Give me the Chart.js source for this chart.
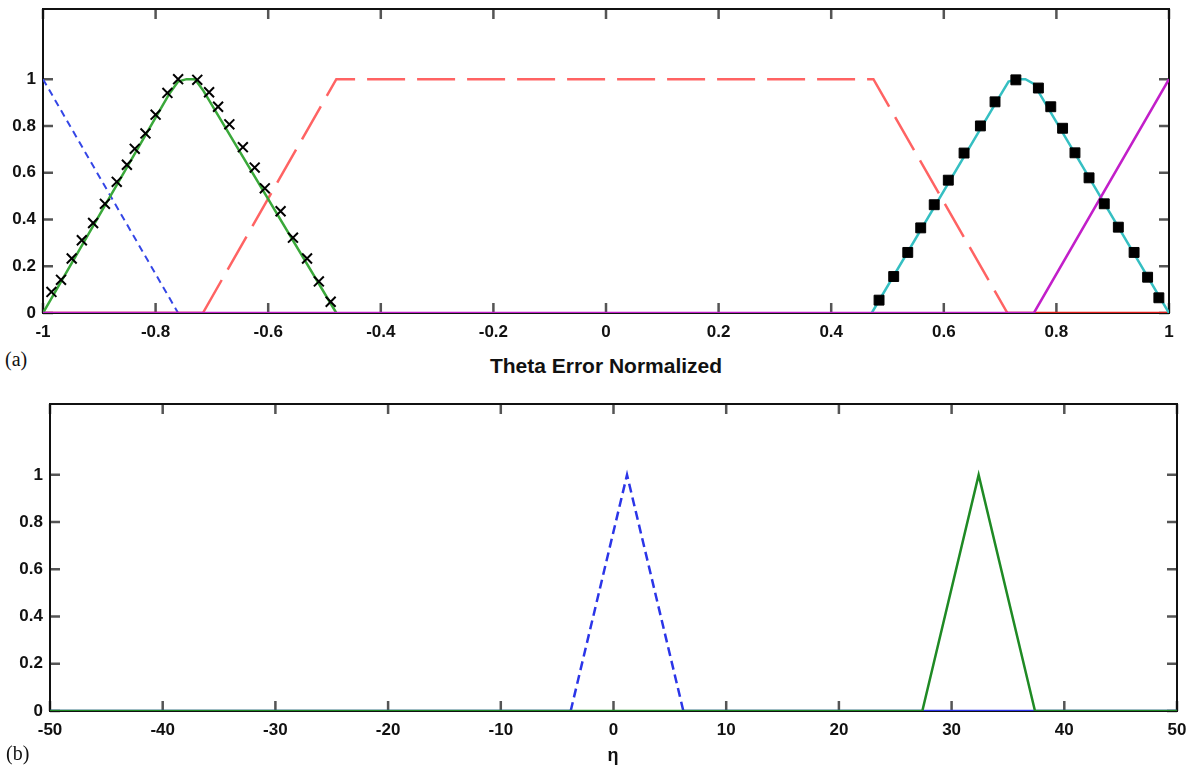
<!DOCTYPE html>
<html>
<head>
<meta charset="utf-8">
<script src="https://cdn.jsdelivr.net/npm/chart.js@4.4.0/dist/chart.umd.min.js"></script>
<style>
body{margin:0;background:#fff;width:1197px;height:767px;position:relative;overflow:hidden;font-family:"Liberation Sans",Arial,sans-serif}
canvas{position:absolute;left:0}
#cA{top:0}
#cB{top:390px}
.lbl{position:absolute;white-space:nowrap;color:#111;transform:translate(0,-50%)}
.sub{font-family:"Liberation Serif","Times New Roman",serif;font-size:20px}
.ttl{font-weight:bold;transform:translate(-50%,-50%)}
</style>
</head>
<body>
<canvas id="cA" width="1197" height="345"></canvas>
<canvas id="cB" width="1197" height="355"></canvas>
<div class="lbl sub" style="left:5px;top:359px">(a)</div>
<div class="lbl ttl" style="left:606px;top:366px;font-size:21px">Theta Error Normalized</div>
<div class="lbl sub" style="left:6px;top:753px">(b)</div>
<div class="lbl ttl" style="left:613px;top:755px;font-size:18px">η</div>
<script>
// === DADOS (a) ===
const xTicksA = [-1, -0.8, -0.6, -0.4, -0.2, 0, 0.2, 0.4, 0.6, 0.8, 1];
const yTicks = [0, 0.2, 0.4, 0.6, 0.8, 1];

const blueX = [-1, -0.76, 1];
const blueY = [1, 0, 0];
const greenX = [-1, -0.775, -0.76, -0.745, -0.73, -0.715, -0.479];
const greenY = [0, 0.94, 0.99, 1, 1, 0.95, 0];
const redX = [-1, -0.716, -0.479, 0.475, 0.713, 1];
const redY = [0, 0, 1, 1, 0, 0];
const cyanX = [0.472, 0.70, 0.715, 0.73, 0.745, 0.76, 1];
const cyanY = [0, 0.93, 0.99, 1, 1, 0.98, 0];
const magX = [-1, 0.76, 1];
const magY = [0, 0, 1];

const crossX = [-0.985, -0.968, -0.949, -0.931, -0.911, -0.890, -0.869, -0.851, -0.837, -0.818, -0.800, -0.779, -0.760,
                -0.726, -0.705, -0.689, -0.669, -0.645, -0.624, -0.606, -0.578, -0.556, -0.531, -0.510, -0.489];
const crossY = [0.09, 0.142, 0.233, 0.311, 0.385, 0.467, 0.561, 0.634, 0.702, 0.768, 0.848, 0.941, 1.0,
                0.997, 0.944, 0.882, 0.807, 0.709, 0.622, 0.533, 0.435, 0.322, 0.233, 0.135, 0.048];
const squareX = [0.485, 0.511, 0.536, 0.559, 0.583, 0.608, 0.636, 0.665, 0.691, 0.728,
                 0.768, 0.790, 0.811, 0.833, 0.858, 0.885, 0.910, 0.938, 0.962, 0.982];
const squareY = [0.055, 0.156, 0.259, 0.364, 0.463, 0.568, 0.684, 0.800, 0.903, 0.997,
                 0.962, 0.882, 0.790, 0.685, 0.578, 0.467, 0.367, 0.259, 0.153, 0.065];

// === DADOS (b) ===
const xTicksB = [-50, -40, -30, -20, -10, 0, 10, 20, 30, 40, 50];
const etaBlueX = [-50, -3.8, 1.2, 6.2, 50];
const etaBlueY = [0, 0, 1, 0, 0];
const etaGreenX = [-50, 27.4, 32.4, 37.4, 50];
const etaGreenY = [0, 0, 1, 0, 0];

const pts = (xs, ys) => xs.map((x, i) => ({ x: x, y: ys[i] }));
const FONT = '"Liberation Sans", Arial, sans-serif';

// moldura + ticks para dentro (estilo MATLAB), por baixo das curvas
const frame = {
    id: 'frame',
    beforeDatasetsDraw(chart){
        const { ctx, chartArea: a, scales: { x, y } } = chart;
        ctx.save();
        ctx.strokeStyle = '#555';
        ctx.lineWidth = 2.5;
        ctx.beginPath();
        x.ticks.forEach(t => {
            const px = x.getPixelForValue(t.value);
            ctx.moveTo(px, a.top); ctx.lineTo(px, a.top + 10);
            ctx.moveTo(px, a.bottom); ctx.lineTo(px, a.bottom - 10);
        });
        y.ticks.forEach(t => {
            const py = y.getPixelForValue(t.value);
            ctx.moveTo(a.left, py); ctx.lineTo(a.left + 10, py);
            ctx.moveTo(a.right, py); ctx.lineTo(a.right - 10, py);
        });
        ctx.stroke();
        ctx.strokeStyle = '#111';
        ctx.lineWidth = 2;
        ctx.strokeRect(a.left, a.top, a.right - a.left, a.bottom - a.top);
        ctx.restore();
    }
};

function makeScales(xTicks, xmin, xmax, yWidth, xHeight){
    const tickFont = { family: FONT, size: 17, weight: 'bold' };
    return {
        x: {
            type: 'linear', min: xmin, max: xmax,
            afterBuildTicks: s => { s.ticks = xTicks.map(v => ({ value: v })); },
            afterFit: s => { s.height = xHeight; s.paddingLeft = 0; s.paddingRight = 0; },
            grid: { display: false, drawTicks: false },
            border: { display: false },
            ticks: { padding: 9, color: '#111', font: tickFont, maxRotation: 0, autoSkip: false, callback: v => String(v) }
        },
        y: {
            type: 'linear', min: 0, max: 1.3,
            afterBuildTicks: s => { s.ticks = yTicks.map(v => ({ value: v })); },
            afterFit: s => { s.width = yWidth; s.paddingTop = 0; s.paddingBottom = 0; },
            grid: { display: false, drawTicks: false },
            border: { display: false },
            ticks: { padding: 7, color: '#111', font: tickFont, autoSkip: false, callback: v => String(v) }
        }
    };
}

const baseOptions = (scales, pad) => ({
    responsive: false,
    animation: false,
    layout: { padding: pad },
    plugins: { legend: { display: false }, tooltip: { enabled: false } },
    scales: scales
});

const isBase = c => c.p0.parsed.y === 0 && c.p1.parsed.y === 0;

// === GRÁFICO (a) ===
new Chart(document.getElementById('cA'), {
    type: 'scatter',
    data: {
        datasets: [
            { data: pts(crossX, crossY), showLine: false, pointStyle: 'crossRot', pointRadius: 7,
              pointBorderColor: '#000', pointBorderWidth: 2, order: 0 },
            { data: pts(squareX, squareY), showLine: false, pointStyle: 'rect', pointRadius: 7,
              pointBackgroundColor: '#000', pointBorderColor: '#000', pointBorderWidth: 1, order: 1 },
            { data: pts(magX, magY), showLine: true, borderColor: '#c21fc9', borderWidth: 2.5, pointRadius: 0, order: 2 },
            { data: pts(greenX, greenY), showLine: true, borderColor: '#3aa83a', borderWidth: 2.5, pointRadius: 0, order: 3 },
            { data: pts(cyanX, cyanY), showLine: true, borderColor: '#35bfc2', borderWidth: 2.5, pointRadius: 0, order: 4 },
            { data: pts(redX, redY), showLine: true, borderWidth: 2.5, pointRadius: 0, order: 5,
              borderColor: '#ff6363',
              segment: {
                  borderDash: c => isBase(c) ? [] : [38, 12],
                  borderColor: c => isBase(c) ? '#e41f1f' : '#ff6363'
              } },
            { data: pts(blueX, blueY), showLine: true, borderColor: '#3446e6', borderWidth: 2, borderDash: [7, 5],
              pointRadius: 0, order: 6 }
        ]
    },
    options: baseOptions(makeScales(xTicksA, -1, 1, 43, 32), { top: 6, right: 28, left: 0, bottom: 0 }),
    plugins: [frame]
});

// === GRÁFICO (b) ===
new Chart(document.getElementById('cB'), {
    type: 'scatter',
    data: {
        datasets: [
            { data: pts(etaGreenX, etaGreenY), showLine: true, borderColor: '#1f8a24', borderWidth: 2.5, pointRadius: 0, order: 0 },
            { data: pts(etaBlueX, etaBlueY), showLine: true, borderColor: '#2b35e8', borderWidth: 2.5, pointRadius: 0, order: 1,
              segment: { borderDash: c => isBase(c) ? [] : [9, 5] } }
        ]
    },
    options: baseOptions(makeScales(xTicksB, -50, 50, 50, 34), { top: 14, right: 20, left: 0, bottom: 0 }),
    plugins: [frame]
});
</script>
</body>
</html>
